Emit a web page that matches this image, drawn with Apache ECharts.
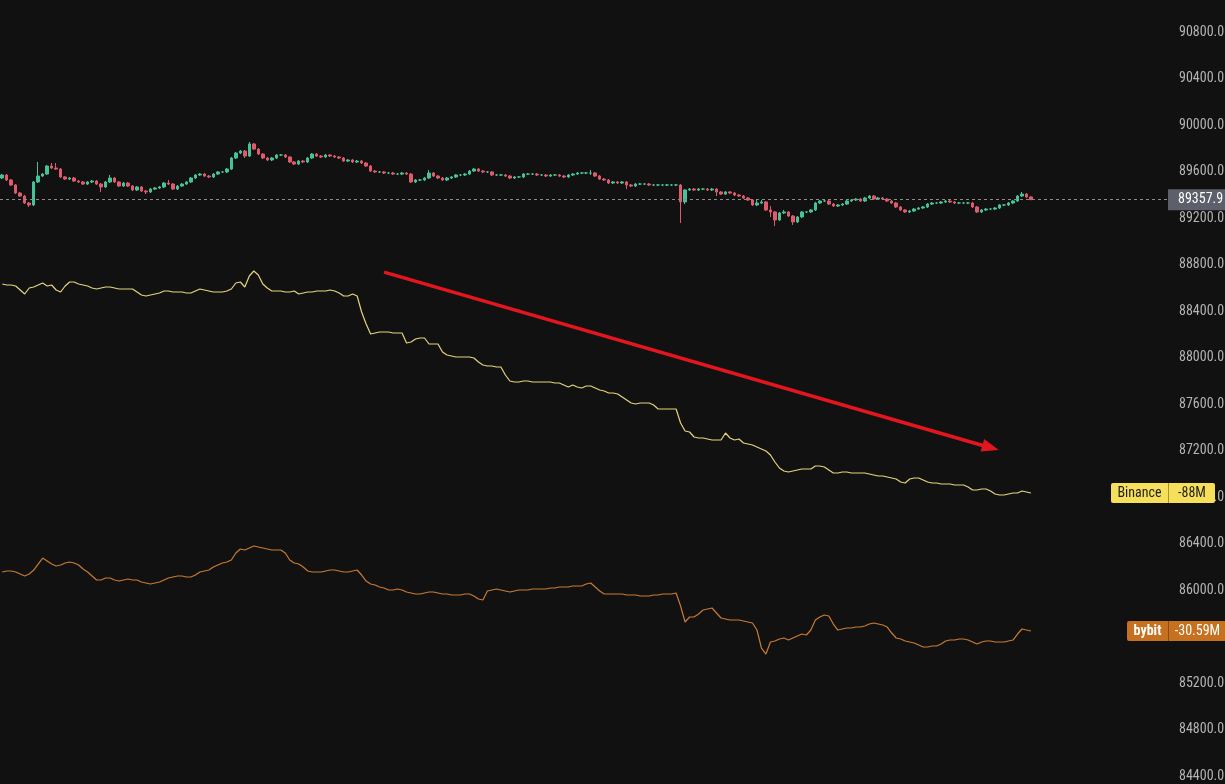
<!DOCTYPE html>
<html><head><meta charset="utf-8">
<script src="https://cdn.jsdelivr.net/npm/echarts@6/dist/echarts.min.js"></script>
<style>html,body{margin:0;padding:0;background:#111111;}#c{width:1225px;height:784px;}</style>
</head><body><div id="c"></div>
<script>
const FONT = "'Liberation Sans Narrow','Roboto Condensed','Arial Narrow',Roboto,sans-serif";
const slotCount = 260;
const categories = Array.from({length: slotCount}, (_, i) => String(i));

// [open, close, low, high]
const candles = [
[89544,89570,89535,89578],[89570,89527,89518,89578],[89527,89484,89475,89535],[89484,89415,89406,89492],[89415,89389,89381,89424],
[89389,89329,89320,89398],[89329,89312,89295,89338],[89312,89510,89303,89518],[89510,89561,89501,89682],[89561,89578,89553,89587],
[89578,89647,89570,89656],[89647,89630,89621,89673],[89630,89621,89613,89673],[89621,89553,89544,89630],[89553,89535,89527,89561],
[89535,89544,89527,89553],[89544,89518,89510,89553],[89518,89510,89501,89527],[89510,89492,89484,89518],[89492,89510,89484,89518],
[89510,89518,89501,89527],[89518,89492,89484,89527],[89492,89467,89424,89501],[89467,89510,89458,89518],[89510,89544,89501,89570],
[89544,89510,89501,89553],[89510,89475,89467,89518],[89475,89501,89467,89510],[89501,89475,89467,89510],[89475,89441,89432,89484],
[89441,89467,89432,89475],[89467,89432,89424,89475],[89432,89424,89406,89441],[89424,89449,89415,89458],[89449,89458,89441,89467],
[89458,89467,89449,89475],[89467,89501,89458,89510],[89501,89492,89484,89527],[89492,89449,89441,89501],[89449,89475,89441,89484],
[89475,89492,89467,89501],[89492,89510,89484,89518],[89510,89544,89501,89553],[89544,89570,89535,89578],[89570,89578,89561,89587],
[89578,89561,89553,89587],[89561,89553,89544,89570],[89553,89578,89544,89587],[89578,89596,89570,89604],[89596,89596,89587,89604],
[89596,89621,89587,89630],[89621,89716,89613,89725],[89716,89759,89707,89768],[89759,89776,89750,89785],[89776,89733,89716,89785],
[89733,89837,89725,89854],[89837,89793,89785,89845],[89793,89750,89742,89802],[89750,89716,89707,89759],[89716,89699,89690,89725],
[89699,89716,89690,89725],[89716,89742,89707,89750],[89742,89742,89733,89750],[89742,89725,89716,89750],[89725,89682,89673,89733],
[89682,89664,89656,89690],[89664,89690,89656,89699],[89690,89682,89673,89699],[89682,89716,89673,89725],[89716,89750,89707,89759],
[89750,89733,89725,89759],[89733,89725,89716,89742],[89725,89742,89716,89750],[89742,89733,89725,89750],[89733,89725,89716,89742],
[89725,89716,89707,89733],[89716,89690,89682,89725],[89690,89699,89682,89707],[89699,89682,89673,89707],[89682,89690,89673,89699],
[89690,89673,89664,89699],[89673,89647,89639,89682],[89647,89604,89596,89656],[89604,89596,89587,89613],[89596,89596,89587,89604],
[89596,89587,89578,89604],[89587,89587,89578,89596],[89587,89578,89570,89596],[89578,89578,89570,89587],[89578,89587,89570,89596],
[89587,89578,89570,89596],[89578,89510,89501,89587],[89510,89527,89501,89535],[89527,89527,89518,89535],[89527,89544,89518,89553],
[89544,89587,89535,89613],[89587,89561,89553,89596],[89561,89544,89535,89570],[89544,89527,89518,89553],[89527,89544,89518,89553],
[89544,89553,89535,89561],[89553,89570,89544,89578],[89570,89570,89561,89578],[89570,89578,89561,89587],[89578,89604,89570,89613],
[89604,89621,89596,89630],[89621,89604,89596,89630],[89604,89596,89587,89613],[89596,89596,89587,89604],[89596,89570,89561,89604],
[89570,89570,89561,89578],[89570,89570,89561,89578],[89570,89561,89553,89578],[89561,89544,89535,89570],[89544,89553,89535,89561],
[89553,89553,89544,89561],[89553,89578,89544,89587],[89578,89578,89570,89587],[89578,89578,89570,89587],[89578,89570,89561,89587],
[89570,89570,89561,89578],[89570,89561,89553,89578],[89561,89570,89553,89578],[89570,89570,89561,89578],[89570,89561,89553,89578],
[89561,89553,89544,89570],[89553,89570,89544,89578],[89570,89578,89561,89587],[89578,89587,89570,89596],[89587,89587,89578,89596],
[89587,89587,89578,89596],[89587,89587,89570,89613],[89587,89561,89553,89596],[89561,89535,89527,89570],[89535,89527,89518,89544],
[89527,89501,89492,89535],[89501,89510,89492,89518],[89510,89501,89492,89518],[89501,89510,89492,89518],[89510,89484,89449,89518],
[89484,89475,89467,89492],[89475,89492,89467,89501],[89492,89492,89484,89501],[89492,89492,89484,89501],[89492,89484,89475,89501],
[89484,89484,89475,89492],[89484,89484,89475,89492],[89484,89484,89475,89492],[89484,89484,89475,89492],[89484,89484,89475,89492],
[89484,89484,89475,89492],[89484,89338,89157,89492],[89338,89441,89320,89449],[89441,89449,89432,89458],[89449,89441,89432,89458],
[89441,89449,89432,89458],[89449,89449,89441,89458],[89449,89441,89432,89458],[89441,89449,89432,89458],[89449,89424,89389,89458],
[89424,89406,89398,89432],[89406,89424,89398,89432],[89424,89415,89406,89432],[89415,89398,89389,89424],[89398,89389,89381,89406],
[89389,89372,89363,89398],[89372,89355,89346,89381],[89355,89312,89303,89363],[89312,89329,89303,89363],[89329,89338,89320,89355],
[89338,89269,89260,89346],[89269,89252,89209,89303],[89252,89183,89131,89260],[89183,89243,89174,89252],[89243,89252,89234,89269],
[89252,89217,89209,89260],[89217,89166,89140,89226],[89166,89209,89157,89217],[89209,89252,89200,89260],[89252,89252,89243,89260],
[89252,89269,89243,89277],[89269,89329,89260,89338],[89329,89346,89320,89355],[89346,89346,89338,89355],[89346,89320,89312,89355],
[89320,89303,89295,89329],[89303,89312,89295,89320],[89312,89320,89303,89329],[89320,89346,89312,89355],[89346,89355,89338,89363],
[89355,89363,89346,89372],[89363,89346,89338,89372],[89346,89372,89338,89381],[89372,89389,89363,89398],[89389,89363,89355,89398],
[89363,89372,89355,89381],[89372,89363,89355,89381],[89363,89346,89338,89372],[89346,89329,89320,89355],[89329,89295,89286,89338],
[89295,89269,89260,89303],[89269,89252,89243,89277],[89252,89260,89243,89269],[89260,89277,89252,89286],[89277,89286,89269,89295],
[89286,89295,89277,89303],[89295,89320,89286,89329],[89320,89329,89312,89338],[89329,89329,89320,89338],[89329,89338,89320,89346],
[89338,89346,89329,89355],[89346,89338,89329,89355],[89338,89329,89320,89346],[89329,89329,89320,89338],[89329,89329,89320,89338],
[89329,89329,89320,89338],[89329,89295,89286,89338],[89295,89252,89243,89303],[89252,89269,89243,89277],[89269,89277,89260,89286],
[89277,89277,89269,89286],[89277,89286,89269,89295],[89286,89312,89277,89320],[89312,89312,89303,89320],[89312,89329,89303,89338],
[89329,89346,89320,89355],[89346,89389,89338,89398],[89389,89406,89381,89424],[89406,89381,89372,89415],[89381,89357.9,89355,89389]
];

// cumulative delta, millions
const binance = [
121,120,120,119,115,111,117,118,120,122,
119,120,115,113,119,123,123,121,120,119,
117,116,117,118,118,117,116,116,116,116,
113,110,109,110,111,112,114,114,113,113,
113,112,112,114,116,115,114,113,113,113,
114,116,122,123,118,129,134,130,121,117,
114,114,114,113,113,114,111,112,113,113,
114,114,114,115,114,112,109,109,111,109,
93,81,71,72,73,73,73,72,72,72,
62,63,66,67,67,61,61,61,53,50,
49,48,48,48,48,47,43,40,39,39,
38,38,30,24,23,23,24,24,23,23,
23,23,23,22,22,20,18,20,18,17,
19,19,17,15,14,12,12,11,8,5,
2,1,2,2,2,0,-4,-4,-4,-4,
-4,-18,-26,-27,-32,-33,-33,-34,-35,-35,
-35,-28,-33,-35,-34,-38,-39,-40,-42,-44,
-46,-50,-57,-63,-66,-67,-66,-65,-64,-64,
-64,-61,-61,-62,-65,-68,-68,-67,-67,-68,
-68,-68,-68,-69,-70,-71,-71,-72,-73,-74,
-77,-78,-74,-73,-73,-75,-77,-78,-78,-79,
-79,-79,-80,-80,-80,-82,-85,-85,-84,-84,
-86,-89,-90,-90,-89,-88,-88,-86,-87,-88
];
const bybit = [
-1.1,-0.6,-0.6,-1.1,-2.1,-3.1,-2.1,-0.1,2.9,5.9,
4.4,2.9,1.9,2.4,3.4,3.9,3.4,2.4,0.4,-1.1,
-3.1,-5.1,-5.1,-4.1,-4.1,-5.1,-5.6,-5.1,-4.6,-5.1,
-5.1,-6.1,-6.6,-7.1,-6.6,-6.1,-5.1,-4.1,-3.6,-3.1,
-3.1,-3.6,-3.6,-2.6,-1.1,-0.6,-0.1,1.4,2.4,3.4,
3.9,4.9,8.4,10.4,9.9,10.9,11.9,11.4,10.9,10.4,
9.9,9.9,9.9,8.4,4.9,3.4,2.9,1.4,-0.6,-1.1,
-1.1,-1.1,-0.6,-0.1,-0.1,-0.6,-1.1,-1.1,-0.6,-0.1,
-2.6,-5.6,-7.1,-7.6,-8.6,-9.1,-10.1,-10.1,-9.6,-10.1,
-11.1,-11.6,-12.1,-12.1,-11.6,-11.1,-11.1,-11.6,-12.1,-12.1,
-12.6,-12.6,-12.6,-12.1,-12.1,-13.1,-14.6,-15.1,-10.6,-10.1,
-9.6,-10.1,-10.6,-11.1,-10.6,-10.1,-10.1,-10.1,-9.6,-9.6,
-9.6,-9.6,-9.1,-9.1,-8.6,-8.6,-8.6,-8.1,-8.1,-8.1,
-7.1,-6.6,-8.6,-10.6,-12.1,-12.1,-12.1,-12.1,-12.1,-12.6,
-12.6,-12.6,-13.1,-13.1,-13.1,-12.6,-12.6,-12.1,-12.1,-12.1,
-11.6,-18.1,-26.1,-23.6,-23.6,-22.1,-20.1,-19.6,-19.1,-21.6,
-24.1,-24.6,-25.1,-25.1,-25.1,-25.6,-26.1,-26.6,-30.1,-39.1,
-42.1,-36.1,-35.6,-34.6,-34.1,-35.1,-34.1,-33.1,-32.1,-32.6,
-30.1,-25.1,-23.6,-22.6,-23.1,-27.1,-30.1,-29.6,-29.1,-29.1,
-28.6,-28.6,-28.1,-27.1,-26.6,-27.1,-27.6,-28.6,-31.6,-34.1,
-34.6,-35.6,-36.1,-36.6,-37.6,-38.6,-38.6,-38.1,-38.1,-37.1,
-35.6,-35.1,-35.1,-34.6,-34.6,-35.1,-36.1,-37.1,-36.1,-35.6,
-35.6,-36.1,-36.1,-36.1,-35.6,-35.1,-32.1,-29.6,-30.1,-30.59
];

const lastPrice = 89357.9;
const binanceTag = {name: 'Binance', value: '-88M'};
const bybitTag = {name: 'bybit', value: '-30.59M'};
// annotation arrow in data space [category index, price]
const arrowFrom = [85, 88735];
const arrowTo = [220, 87224];

const chart = echarts.init(document.getElementById('c'), null, {renderer: 'canvas'});

function tagLabel(tag, nameW, valueW, bg, divider, fg, bold) {
  const base = {fontFamily: FONT, fontSize: 14, color: fg, fontWeight: bold ? 'bold' : 'normal',
    height: 20, lineHeight: 20, backgroundColor: bg, align: 'center'};
  return {
    show: true, position: 'end', distance: 0, offset: [-nameW, 0], padding: 0,
    formatter: '{n|' + tag.name + '}{d| }{v|' + tag.value + '}',
    rich: {
      n: Object.assign({}, base, {width: nameW, borderRadius: [2, 0, 0, 2]}),
      d: {width: 1, height: 20, lineHeight: 20, backgroundColor: divider, fontSize: 1},
      v: Object.assign({}, base, {width: valueW, borderRadius: [0, 2, 2, 0], fontWeight: 'normal'})
    }
  };
}

chart.setOption({
  backgroundColor: '#111111',
  animation: false,
  grid: {left: 0, right: 57, top: -14.5, bottom: -38.5, containLabel: false, outerBoundsMode: 'none'},
  xAxis: {type: 'category', data: categories, show: false, boundaryGap: true},
  yAxis: [
    {type: 'value', position: 'right', min: 84000, max: 91200, interval: 400,
      axisLine: {show: false}, axisTick: {show: false}, splitLine: {show: false},
      axisLabel: {color: '#b4b4b4', fontSize: 14, fontFamily: FONT, margin: 11,
        formatter: v => v.toFixed(1)}},
    {type: 'value', show: false, min: -417.5, max: 419.5},
    {type: 'value', show: false, min: -126.34, max: 292.16}
  ],
  series: [
    {
      type: 'candlestick', data: candles, barWidth: 3,
      itemStyle: {color: '#45c396', color0: '#df5a6b', borderColor: '#45c396', borderColor0: '#df5a6b', borderWidth: 1},
      markLine: {
        silent: true, symbol: ['none', 'none'], animation: false,
        data: [
          {yAxis: lastPrice,
            lineStyle: {color: '#8b8b8b', type: [3, 3], width: 1},
            label: {show: true, position: 'end', distance: 0, formatter: lastPrice.toFixed(1),
              backgroundColor: '#5d606b', color: '#ffffff', fontSize: 14, fontFamily: FONT,
              padding: [3, 7, 3, 10], lineHeight: 15}},
          [
            {coord: arrowFrom, symbol: 'none',
              lineStyle: {color: '#e3161e', width: 3.5, type: 'solid'}, label: {show: false}},
            {coord: arrowTo, symbol: 'triangle', symbolSize: [13, 17]}
          ]
        ]
      }
    },
    {
      type: 'line', name: 'Binance', data: binance, yAxisIndex: 1, showSymbol: false, symbol: 'none',
      lineStyle: {color: '#e6d47c', width: 1.2}, itemStyle: {color: '#e6d47c'}, z: 3,
      markLine: {silent: true, symbol: 'none', animation: false,
        lineStyle: {color: 'rgba(0,0,0,0)', width: 0},
        label: tagLabel(binanceTag, 57, 46, '#f6e05b', '#a8942a', '#1e1e1e', false),
        data: [{yAxis: binance[binance.length - 1]}]}
    },
    {
      type: 'line', name: 'bybit', data: bybit, yAxisIndex: 2, showSymbol: false, symbol: 'none',
      lineStyle: {color: '#c97a32', width: 1.2}, itemStyle: {color: '#c97a32'}, z: 3,
      markLine: {silent: true, symbol: 'none', animation: false,
        lineStyle: {color: 'rgba(0,0,0,0)', width: 0},
        label: tagLabel(bybitTag, 41, 57, '#c5711f', '#8a4c12', '#ffffff', true),
        data: [{yAxis: bybit[bybit.length - 1]}]}
    }
  ]
});
</script>
</body></html>
